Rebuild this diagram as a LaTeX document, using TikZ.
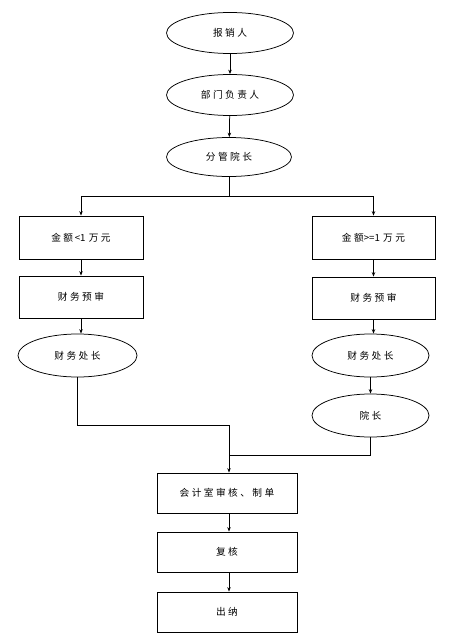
\documentclass[tikz,border=0pt]{standalone}
\usepackage{fontspec}
\newfontfamily\cjk{Noto Sans CJK SC}[LetterSpace=25]
\newfontfamily\cjkn{Noto Sans CJK SC}
\usetikzlibrary{arrows.meta,shapes.geometric}
\begin{document}
\begin{tikzpicture}[x=1pt,y=-1pt,
  every node/.style={font=\cjk\fontsize{9.7}{11}\selectfont, inner sep=0pt},
  oval/.style={draw, ellipse, line width=0.75pt, minimum width=127pt, minimum height=41pt},
  rbox/.style={draw, rectangle, line width=0.75pt, minimum width=124pt, minimum height=43pt},
  bbox/.style={draw, rectangle, line width=0.75pt, minimum width=140pt, minimum height=40pt},
  conn/.style={line width=0.75pt},
  arr/.style={conn, -{Stealth[length=4.5pt,width=3.5pt]}}]
\useasboundingbox (0,0) rectangle (454,642);
\node[oval] (e1) at (230,33) {报销人};
\node[oval] (e2) at (230,95) {部门负责人};
\node[oval, minimum width=125pt, minimum height=39pt] (e3) at (229,157) {分管院长};
\node[rbox] (L1) at (81,237.5) {金额\,{\cjkn<1}\,\,万元};
\node[rbox, minimum height=42pt] (L2) at (81,297) {财务预审};
\node[oval, minimum width=119pt, minimum height=43pt] (L3) at (77.5,355.5) {财务处长};
\node[rbox, minimum width=123pt] (R1) at (373.5,237.5) {金额{\cjkn>=1}\,\,万元};
\node[rbox, minimum width=123pt, minimum height=42pt] (R2) at (373.5,298) {财务预审};
\node[oval, minimum width=117pt, minimum height=43pt] (R3) at (370.5,355.5) {财务处长};
\node[oval, minimum width=117pt, minimum height=43pt] (R4) at (370.5,415.5) {院长};
\node[bbox] (B1) at (227,493) {会计室审核、制单};
\node[bbox] (B2) at (227,552) {复核};
\node[bbox] (B3) at (227,612) {出纳};
\coordinate (br) at (229,196);
\coordinate (m1) at (229,425);
\coordinate (m2) at (229,455);
\draw[arr] (e1) -- (e2);
\draw[arr] (e2) -- (e3);
\draw[conn] (e3.south) -- (br);
\draw[arr] (br) -| (L1.north);
\draw[arr] (br) -| (R1.north);
\draw[arr] (L1) -- (L2);
\draw[arr] (L2.south) -- (L2.south |- L3.north);
\draw[arr] (R1) -- (R2);
\draw[arr] (R2.south) -- (R2.south |- R3.north);
\draw[arr] (R3) -- (R4);
\draw[conn] (L3.south) |- (m1);
\draw[conn] (R4.south) |- (m2);
\draw[arr] (m1) -- (m1 |- B1.north);
\draw[arr] (B1.south -| m1) -- (B2.north -| m1);
\draw[arr] (B2.south -| m1) -- (B3.north -| m1);
\end{tikzpicture}
\end{document}
